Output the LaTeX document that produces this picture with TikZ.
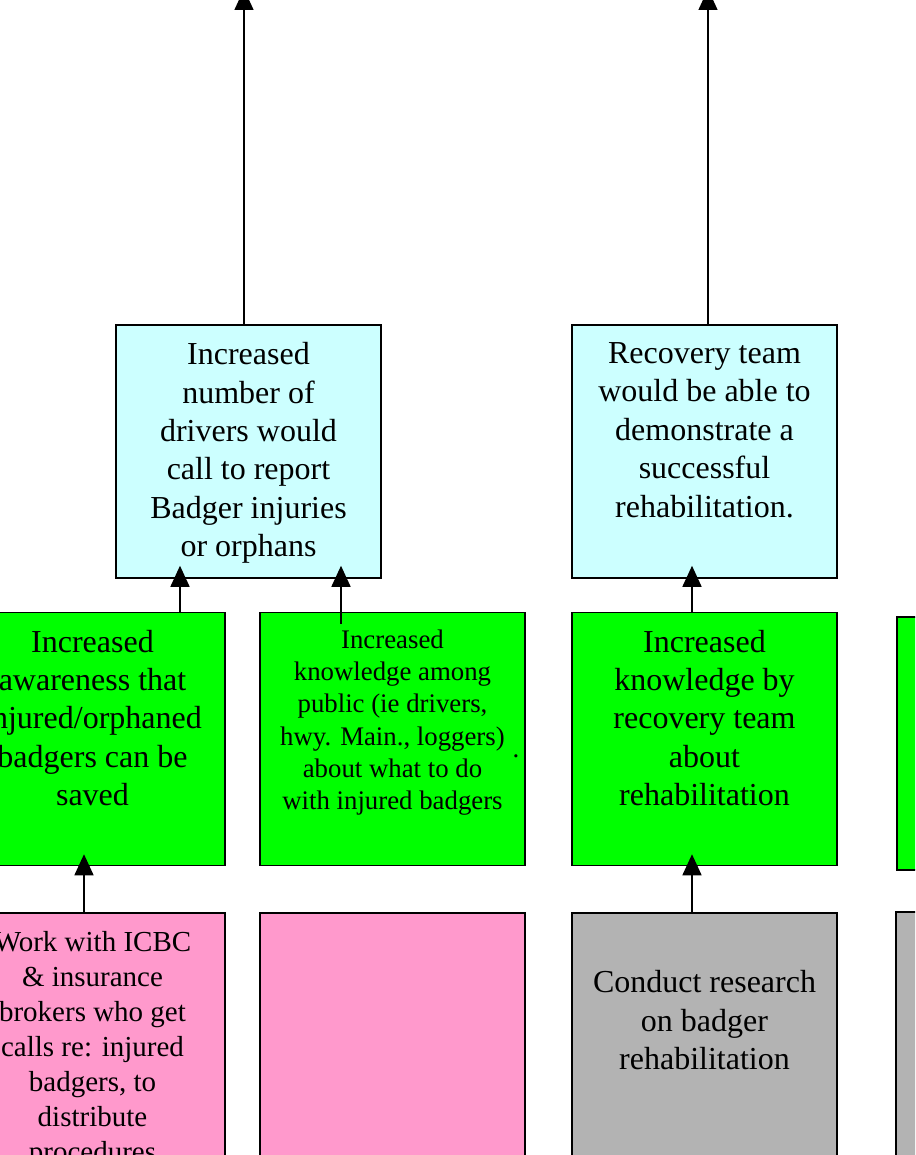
\documentclass[tikz,border=0pt]{standalone}
\usepackage{fontspec}
\setmainfont{Liberation Serif}
\usetikzlibrary{arrows.meta}

\definecolor{outcomeblue}{HTML}{CCFFFF}
\definecolor{knowgreen}{HTML}{00FF00}
\definecolor{actpink}{HTML}{FF99CC}
\definecolor{actgray}{HTML}{B3B3B3}

\begin{document}
\begin{tikzpicture}[x=1pt, y=-1pt,
    box/.style={draw, rectangle, line width=1.5pt, minimum width=265pt, minimum height=253pt, inner sep=0pt},
    txt/.style={anchor=north, align=center, inner sep=0pt, font=\fontsize{32}{38.4}\selectfont},
    arr/.style={-{Triangle[length=21pt, width=19pt]}, line width=1.5pt}]
    \useasboundingbox (0,0) rectangle (915,1155);
    \clip (0,0) rectangle (915,1155);

    % Boxes
    \node[box, fill=outcomeblue] (blue1) at (248.5,451.5) {};
    \node[box, fill=outcomeblue] (blue2) at (704.5,451.5) {};
    \node[box, fill=knowgreen] (green1) at (92.5,739) {};
    \node[box, fill=knowgreen] (green2) at (392.5,739) {};
    \node[box, fill=knowgreen] (green3) at (704.5,739) {};
    \node[box, fill=knowgreen] (green4) at (1029.5,743.5) {};
    \node[box, fill=actpink] (pink1) at (92.5,1039.5) {};
    \node[box, fill=actpink] (pink2) at (392.5,1039.5) {};
    \node[box, fill=actgray] (gray3) at (704.5,1039.5) {};
    \node[box, fill=actgray] (gray4) at (1028.5,1038.5) {};

    % Arrows
    \coordinate (up1) at (244,-11);
    \coordinate (up2) at (708,-11);
    \draw[arr] ([xshift=-4.5pt]blue1.north) -- (up1);
    \draw[arr] ([xshift=3.5pt]blue2.north) -- (up2);
    \draw[arr] ([xshift=87.5pt]green1.north) -- ([xshift=-68.5pt, yshift=13pt]blue1.south);
    \draw[arr] ([xshift=-51.5pt, yshift=-12pt]green2.north) -- ([xshift=92.5pt, yshift=13pt]blue1.south);
    \draw[arr] ([xshift=-12.5pt]green3.north) -- ([xshift=-12.5pt, yshift=13pt]blue2.south);
    \draw[arr] ([xshift=-8.5pt]pink1.north) -- ([xshift=-8.5pt, yshift=12pt]green1.south);
    \draw[arr] ([xshift=-12.5pt]gray3.north) -- ([xshift=-12.5pt, yshift=12pt]green3.south);

    % Texts
    \node[txt, yshift=-18pt] (blue1t) at (blue1.north) {Increased\\number of\\drivers would\\call to report\\Badger injuries\\or orphans};
    \node[txt, yshift=-18pt] (blue2t) at (blue2.north) {Recovery team\\would be able to\\demonstrate a\\successful\\rehabilitation.};
    \node[txt, yshift=-18pt] (green1t) at (green1.north) {Increased\\awareness that\\injured/orphaned\\badgers can be\\saved};
    \node[txt, yshift=-18pt, font=\fontsize{26.8}{32.2}\selectfont] (green2t) at (green2.north) {Increased\\knowledge among\\public (ie drivers,\\hwy. Main., loggers)\\about what to do\\with injured badgers};
    \node[anchor=base, inner sep=0pt, font=\fontsize{26.8}{32.2}\selectfont] (green2dot) at (516,757) {.};
    \node[txt, yshift=-18pt] (green3t) at (green3.north) {Increased\\knowledge by\\recovery team\\about\\rehabilitation};
    \node[txt, yshift=-19pt, font=\fontsize{29}{35}\selectfont] (pink1t) at (pink1.north) {Work with ICBC\\\& insurance\\brokers who get\\calls re: injured\\badgers, to\\distribute\\procedures};
    \node[txt, yshift=-58pt] (gray3t) at (gray3.north) {Conduct research\\on badger\\rehabilitation};
\end{tikzpicture}
\end{document}
